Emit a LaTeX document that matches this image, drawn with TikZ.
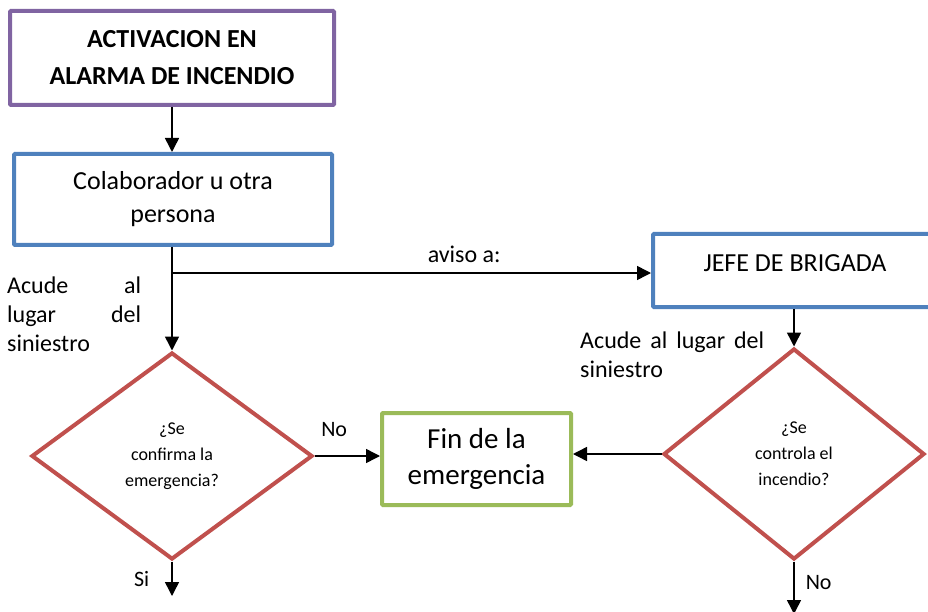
\documentclass[tikz,border=0pt]{standalone}
\usepackage{fontspec}
\setmainfont{Carlito}
\usetikzlibrary{positioning}
\usetikzlibrary{arrows.meta,shapes.geometric}
\definecolor{morado}{RGB}{128,100,162}
\definecolor{azul}{RGB}{79,129,189}
\definecolor{rojo}{RGB}{192,80,77}
\definecolor{verde}{RGB}{155,187,89}

\begin{document}
\begin{tikzpicture}
  [x=1pt,y=-1pt,
  caja/.style={rectangle,draw,line width=4pt,rounded corners=1pt,inner sep=0pt,align=center},
  rombo/.style={diamond,draw=rojo,line width=4pt,inner sep=0pt,align=center,font=\fontsize{18}{26}\selectfont},
  flecha/.style={-{Triangle[length=14pt,width=14pt]},line width=1.5pt},
  etiq/.style={inner sep=0pt,font=\fontsize{24}{29}\selectfont}]
  \useasboundingbox (0,0) rectangle (928,612);

  \node[caja,draw=morado,minimum width=324pt,minimum height=94pt,font=\bfseries\fontsize{26}{37}\selectfont] (alarma) at (172,58) {ACTIVACION EN\\ALARMA DE INCENDIO};
  \node[caja,draw=azul,minimum width=318pt,minimum height=91pt,font=\fontsize{26}{33}\selectfont] (colab) at (173,199.5) {Colaborador u otra\\persona};
  \node[caja,draw=azul,minimum width=284pt,minimum height=73pt,text depth=15pt,font=\fontsize{26}{32}\selectfont] (jefe) at (795,270.5) {JEFE DE BRIGADA};
  \node[caja,draw=verde,minimum width=189pt,minimum height=92pt,font=\fontsize{29}{36}\selectfont] (fin) at (476.5,459) {Fin de la\\emergencia};

  \node[rombo,minimum width=281pt,minimum height=207pt] (conf) at (172,456) {¿Se\\confirma la\\emergencia?};
  \node[rombo,minimum width=261pt,minimum height=211pt] (control) at (794,454) {¿Se\\controla el\\incendio?};

  \node[etiq,text width=134pt,anchor=north west] (acude1) at (7,277) {Acude\hfill al\\lugar\hfill del\\siniestro};
  \node[etiq,text width=184pt,anchor=north west] (acude2) at (580,332) {Acude\hfill al\hfill lugar\hfill del\\siniestro};

  \coordinate (rama) at (172,273);
  \coordinate (si) at (172,596);
  \coordinate (nofin) at (794,614);

  \draw[flecha] (alarma.south -| conf.north) -- (colab.north -| conf.north);
  \draw[flecha] (colab.south -| conf.north) -- (conf.north);
  \draw[flecha] (rama) -- (rama -| jefe.west) node[etiq,pos=0.61,above=10pt] {aviso a:};
  \draw[flecha] (jefe.south -| control.north) -- (control.north);
  \draw[flecha] (conf.east) -- (conf.east -| fin.west) node[etiq,pos=0.3,above=19pt,font=\fontsize{22}{26}\selectfont] {No};
  \draw[flecha] (control.west) -- (control.west -| fin.east);
  \draw[flecha] (conf.south) -- (si) node[etiq,midway,left=22pt,font=\fontsize{22}{26}\selectfont] {Si};
  \draw[flecha] (control.south) -- (nofin) node[etiq,pos=0.4,right=11pt,font=\fontsize{22}{26}\selectfont] {No};
\end{tikzpicture}
\end{document}
